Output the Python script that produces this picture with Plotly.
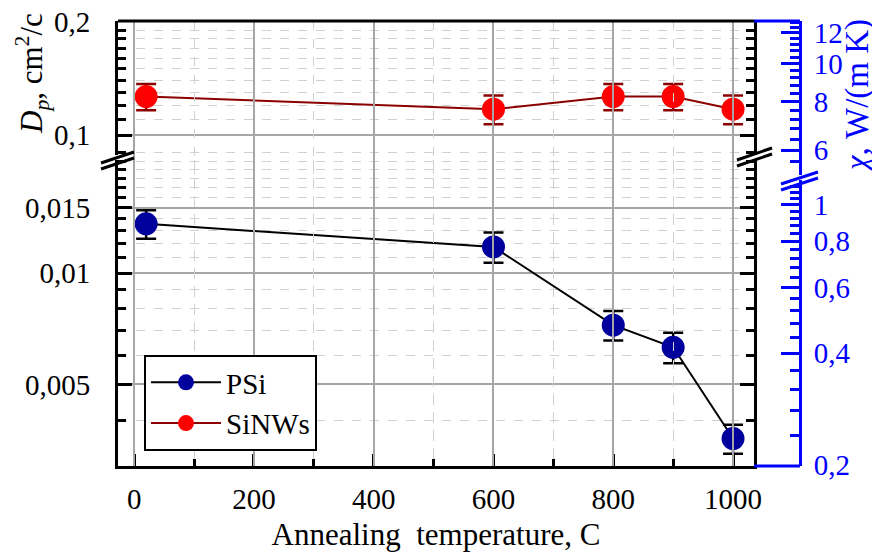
import math
import plotly.graph_objects as go

# ---------------- data ----------------
temps = [20, 600, 800, 900, 1000]
psi_d = [0.01358, 0.01176, 0.00723, 0.00630, 0.00357]
psi_err = [0.0012, 0.0011, 0.00066, 0.0006, 0.00032]
sinw_d = [0.1265, 0.1171, 0.1265, 0.1265, 0.1171]
sinw_err = [0.0102, 0.0102, 0.0102, 0.0102, 0.0102]

x_ticks = [0, 200, 400, 600, 800, 1000]
x_minor = [100, 300, 500, 700, 900]

y_top_ticks = [0.1, 0.2]
y_top_text = ["0,1", "0,2"]
y_top_minor = [0.09, 0.11, 0.12, 0.13, 0.14, 0.15, 0.16, 0.17, 0.18, 0.19]

y_bot_ticks = [0.005, 0.01, 0.015]
y_bot_text = ["0,005", "0,01", "0,015"]
y_bot_minor = [0.004, 0.006, 0.007, 0.008, 0.009, 0.011, 0.012, 0.013,
               0.014, 0.016, 0.017, 0.018, 0.019, 0.02]

r_top_ticks = [6, 8, 10, 12]
r_top_text = ["6", "8", "10", "12"]
r_top_minor = [5.2, 5.6, 6.4, 6.8, 7.2, 7.6, 8.4, 8.8, 9.2, 9.6, 10.4, 10.8,
               11.2, 11.6, 12.4, 12.8]

r_bot_ticks = [0.2, 0.4, 0.6, 0.8, 1.0]
r_bot_text = ["0,2", "0,4", "0,6", "0,8", "1"]
r_bot_minor = [0.24, 0.28, 0.32, 0.36, 0.44, 0.48, 0.52, 0.56, 0.64, 0.68,
               0.72, 0.76, 0.84, 0.88, 0.92, 0.96, 1.04, 1.08, 1.12, 1.16]

# ---------------- geometry ----------------
# the page body adds an 8 px offset; figure coordinates are screen - 8
OFF = 8
W, H = 880 - OFF, 556 - OFF
L, R, T, B = 118 - OFF, 80, 21 - OFF, 90
PW, PH = W - L - R, H - T - B
FRAME_X = 754      # black right frame (screen px)


def px(xs):
    return (xs - OFF - L) / PW


def py(ys):
    return (H - B - (ys - OFF)) / PH


XDOM_END = px(FRAME_X)
FONT = "Liberation Serif, Times New Roman, serif"
BLUE = "#0000ff"

fig = go.Figure()

fig.add_trace(go.Scatter(
    x=temps, y=psi_d, name="PSi", mode="lines+markers",
    xaxis="x", yaxis="y2",
    line=dict(color="black", width=2),
    marker=dict(color="#00009c", size=23, line=dict(width=0)),
    error_y=dict(type="data", array=psi_err, color="black", thickness=2.5, width=10),
))
fig.add_trace(go.Scatter(
    x=temps, y=sinw_d, name="SiNWs", mode="lines+markers",
    xaxis="x", yaxis="y",
    line=dict(color="#8b0000", width=2),
    marker=dict(color="#ff0000", size=23, line=dict(width=0)),
    error_y=dict(type="data", array=sinw_err, color="#8b0000", thickness=2.5, width=10),
))
# carriers for the right-hand (blue) scale
fig.add_trace(go.Scatter(x=[None], y=[None], xaxis="x", yaxis="y3",
                         showlegend=False, hoverinfo="skip"))
fig.add_trace(go.Scatter(x=[None], y=[None], xaxis="x", yaxis="y4",
                         showlegend=False, hoverinfo="skip"))

GRID = "#a6a6a6"
MINOR_GRID = "#d0d0d0"
TICK_SIZE = 29
TITLE_SIZE = 31
tickfont = dict(family=FONT, size=TICK_SIZE, color="black")

common_left = dict(
    type="log", showline=True, linecolor="black", linewidth=3, automargin=False,
    mirror="allticks", ticks="inside", ticklen=14, tickwidth=3, tickcolor="black",
    showgrid=True, gridcolor=GRID, gridwidth=1.5, zeroline=False,
    tickfont=tickfont, tickmode="array", ticklabelstandoff=19,
    ticklabeloverflow="allow",
)

fig.update_layout(
    width=W, height=H,
    margin=dict(l=L, r=R, t=T, b=B, autoexpand=False),
    paper_bgcolor="white", plot_bgcolor="rgba(0,0,0,0)",
    showlegend=True,
    xaxis=dict(
        domain=[0, XDOM_END], range=[-27, 1035], anchor="y2", automargin=False,
        showline=True, linecolor="black", linewidth=3,
        ticks="inside", ticklen=12, tickwidth=3, tickcolor="black",
        tickmode="array", tickvals=x_ticks, ticktext=[str(v) for v in x_ticks],
        showgrid=True, gridcolor=GRID, gridwidth=1.5, zeroline=False,
        tickfont=tickfont, ticklabelstandoff=5,
        minor=dict(tickmode="array", tickvals=x_minor, ticks="inside", ticklen=7,
                   tickwidth=2.5, tickcolor="black", showgrid=True,
                   gridcolor=MINOR_GRID, griddash="dash", gridwidth=1),
        title=dict(text="Annealing  temperature, C",
                   font=dict(family=FONT, size=TITLE_SIZE, color="black"), standoff=10),
    ),
    yaxis=dict(
        **common_left, domain=[py(155), 1],
        range=[math.log10(0.0885), math.log10(0.2) + 0.002], anchor="x",
        tickvals=y_top_ticks, ticktext=y_top_text,
        minor=dict(tickmode="array", tickvals=y_top_minor, ticks="inside", ticklen=8,
                   tickwidth=2.5, tickcolor="black", showgrid=True,
                   gridcolor=MINOR_GRID, griddash="dash", gridwidth=1),
    ),
    yaxis2=dict(
        **common_left, domain=[0, py(160)],
        range=[math.log10(0.00301), math.log10(0.0202)], anchor="x",
        tickvals=y_bot_ticks, ticktext=y_bot_text,
        minor=dict(tickmode="array", tickvals=y_bot_minor, ticks="inside", ticklen=8,
                   tickwidth=2.5, tickcolor="black", showgrid=True,
                   gridcolor=MINOR_GRID, griddash="dash", gridwidth=1),
    ),
    yaxis3=dict(
        type="log", domain=[py(175), 1], anchor="free", position=1, side="right",
        range=[math.log10(5.18), math.log10(12.88)], automargin=False,
        showline=True, linecolor=BLUE, linewidth=3,
        ticks="inside", ticklen=18, tickwidth=3, tickcolor=BLUE,
        tickmode="array", tickvals=r_top_ticks, ticktext=r_top_text,
        tickfont=dict(family=FONT, size=TICK_SIZE, color=BLUE), ticklabelstandoff=6,
        ticklabeloverflow="allow",
        showgrid=False, zeroline=False,
        minor=dict(tickmode="array", tickvals=r_top_minor, ticks="inside", ticklen=9,
                   tickwidth=2.5, tickcolor=BLUE, showgrid=False),
    ),
    yaxis4=dict(
        type="log", domain=[0, py(180)], anchor="free", position=1, side="right",
        range=[math.log10(0.2) - 0.002, math.log10(1.167)], automargin=False,
        showline=True, linecolor=BLUE, linewidth=3,
        ticks="inside", ticklen=18, tickwidth=3, tickcolor=BLUE,
        tickmode="array", tickvals=r_bot_ticks, ticktext=r_bot_text,
        tickfont=dict(family=FONT, size=TICK_SIZE, color=BLUE), ticklabelstandoff=6,
        ticklabeloverflow="allow",
        showgrid=False, zeroline=False,
        minor=dict(tickmode="array", tickvals=r_bot_minor, ticks="inside", ticklen=9,
                   tickwidth=2.5, tickcolor=BLUE, showgrid=False),
    ),
    legend=dict(
        x=px(144), y=py(355), xanchor="left", yanchor="top",
        bgcolor="white", bordercolor="black", borderwidth=2,
        font=dict(family=FONT, size=29, color="black"),
        itemwidth=70, tracegroupgap=0,
    ),
)

# frame: top black line, blue extensions
shapes = [
    dict(type="line", xref="paper", yref="paper", x0=0, x1=XDOM_END, y0=1, y1=1,
         line=dict(color="black", width=3)),
    dict(type="line", xref="paper", yref="paper", x0=XDOM_END, x1=1, y0=1, y1=1,
         line=dict(color=BLUE, width=3)),
    dict(type="line", xref="paper", yref="paper", x0=XDOM_END, x1=1, y0=0, y1=0,
         line=dict(color=BLUE, width=3)),
]
# axis-break marks (screen px)
for (x0, y0, x1, y1, c) in [
    (101, 163, 134, 152, "black"), (101, 169, 134, 158, "black"),
    (737, 160, 772, 148, "black"), (737, 166, 772, 154, "black"),
    (781, 184, 818, 172, BLUE), (781, 190, 818, 178, BLUE),
]:
    shapes.append(dict(type="line", xref="paper", yref="paper",
                       x0=px(x0), y0=py(y0), x1=px(x1), y1=py(y1),
                       line=dict(color=c, width=3)))
fig.update_layout(shapes=shapes)

fig.add_annotation(
    xref="paper", yref="paper", x=px(32), y=py(74),
    xanchor="center", yanchor="middle",
    text="<i>D<sub>p</sub></i>, cm<sup>2</sup>/c", textangle=-90, showarrow=False,
    font=dict(family=FONT, size=TITLE_SIZE, color="black"),
)
fig.add_annotation(
    xref="paper", yref="paper", x=px(858), y=py(96),
    xanchor="center", yanchor="middle",
    text="<i>χ</i>, W/(m K)", textangle=-90, showarrow=False,
    font=dict(family=FONT, size=33, color=BLUE),
)

fig.write_html("out.html")
